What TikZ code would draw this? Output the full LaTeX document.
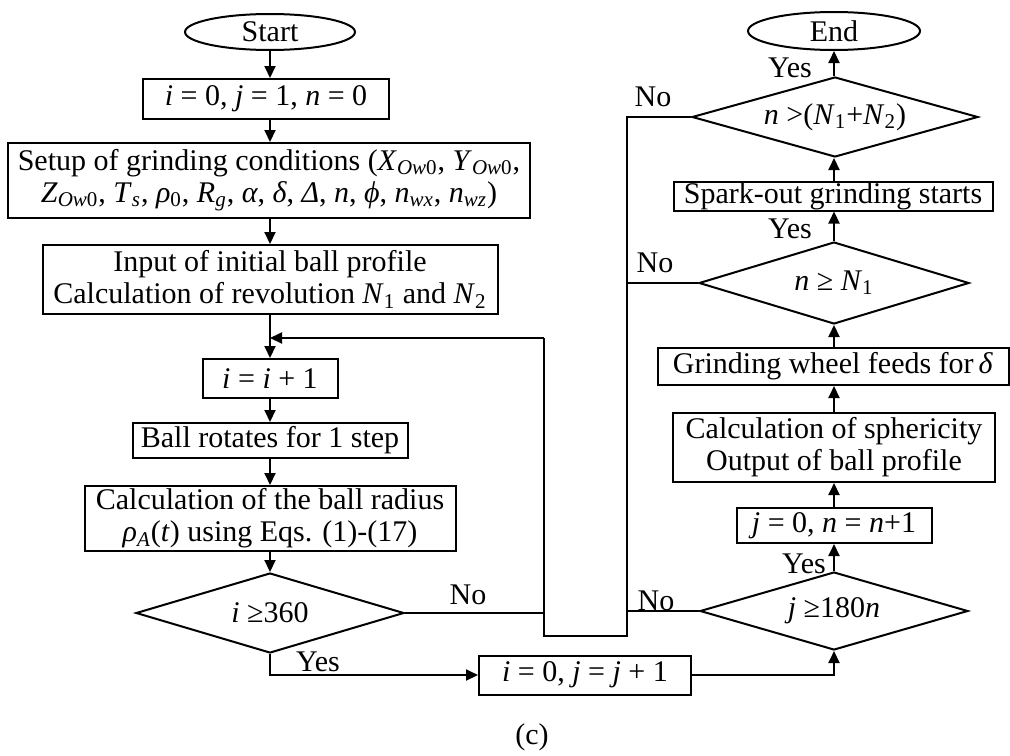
\documentclass[tikz,border=0pt]{standalone}
\usepackage{fontspec}
\setmainfont{Liberation Serif}
\usetikzlibrary{shapes.geometric,arrows.meta}
\newcommand\lowr[1]{\textsubscript{#1}}

\begin{document}
\begin{tikzpicture}[x=0.5pt,y=-0.5pt,line join=miter,
  font=\fontsize{15}{16}\selectfont,
  box/.style={draw,line width=1pt,inner sep=0pt,align=center},
  decision/.style={diamond,draw,line width=1pt,inner sep=0pt,aspect=3.3},
  terminal/.style={ellipse,draw,line width=1pt,inner sep=0pt},
  tag/.style={inner sep=0pt},
  wire/.style={line width=1pt},
  flow/.style={line width=1pt,-{Triangle[length=6pt,width=5.5pt]}}]
  \useasboundingbox (0,0) rectangle (1010,755);

  % left column
  \node[terminal,minimum width=85pt,minimum height=18pt] (start) at (270,32) {Start};
  \node[box,minimum width=123pt,minimum height=20pt] (init) at (266,99) {\textit{i} = 0, \textit{j} = 1, \textit{n} = 0};
  \node[box,minimum width=261pt,minimum height=37.5pt] (setup) at (269,180.5) {Setup of grinding conditions (\textit{X}\lowr{\textit{Ow}0}, \textit{Y}\lowr{\textit{Ow}0},\\
    \textit{Z}\lowr{\textit{Ow}0}, \textit{T}\lowr{\textit{s}}, \textit{ρ}\lowr{0}, \textit{R}\lowr{\textit{g}}, \textit{α}, \textit{δ}, \textit{Δ}, \textit{n}, \textit{ϕ}, \textit{n}\lowr{\textit{wx}}, \textit{n}\lowr{\textit{wz}})};
  \node[box,minimum width=227.5pt,minimum height=34.5pt] (input) at (270,279.5) {Input of initial ball profile\\
    Calculation of revolution \textit{N}\lowr{1} and \textit{N}\lowr{2}};
  \node[box,minimum width=67.5pt,minimum height=19.5pt] (inc) at (270,378.5) {\textit{i} = \textit{i} + 1};
  \node[box,minimum width=137.5pt,minimum height=17.5pt] (ball) at (270,440.5) {Ball rotates for 1 step};
  \node[box,minimum width=185.5pt,minimum height=32.5pt] (radius) at (270,518.5) {Calculation of the ball radius\\
    \textit{ρ}\lowr{\textit{A}}(\textit{t}) using Eqs. (1)-(17)};
  \node[decision,minimum width=134pt,minimum height=40pt] (checki) at (270,613) {\textit{i} ≥360};
  \node[box,minimum width=106pt,minimum height=19.5pt] (reset) at (585,675) {\textit{i} = 0, \textit{j} = \textit{j} + 1};

  % right column
  \node[decision,minimum width=134pt,minimum height=39pt] (checkj) at (834,611) {\textit{j} ≥180\textit{n}};
  \node[box,minimum width=97.5pt,minimum height=17.5pt] (jn) at (834,525.5) {\textit{j} = 0, \textit{n} = \textit{n}+1};
  \node[box,minimum width=161pt,minimum height=34.5pt] (sph) at (834,447.5) {Calculation of sphericity\\
    Output of ball profile};
  \node[box,minimum width=175.5pt,minimum height=18.5pt] (feed) at (833,366.5) {Grinding wheel feeds for\,\textit{δ}};
  \node[decision,minimum width=135pt,minimum height=41pt] (checkNa) at (834,283) {\textit{n} ≥ \textit{N}\lowr{1}};
  \node[box,minimum width=159.5pt,minimum height=14.5pt] (spark) at (833,196) {Spark-out grinding starts};
  \node[decision,minimum width=143pt,minimum height=40pt] (checkNb) at (835,117) {\textit{n} >(\textit{N}\lowr{1}+\textit{N}\lowr{2})};
  \node[terminal,minimum width=86pt,minimum height=19pt] (end) at (834,31) {End};

  % return path
  \coordinate (loopin) at (270,338);
  \coordinate (retTop) at (544,338);
  \coordinate (retBot) at (544,636);
  \coordinate (busBot) at (627,636);
  \coordinate (busTop) at (627,117);

  \draw[flow] (start) -- (start |- init.north);
  \draw[flow] (init.south -| start) -- (start |- setup.north);
  \draw[flow] (setup.south -| start) -- (start |- input.north);
  \draw[flow] (input) -- (inc);
  \draw[flow] (inc) -- (ball);
  \draw[flow] (ball) -- (radius);
  \draw[flow] (radius) -- (checki);
  \draw[flow] (checki.south) |- (reset.west);
  \draw[flow] (reset.east) -| (checkj.south);
  \draw[wire] (checki.east) -- (checki.east -| retTop);
  \draw[wire] (checkNb.west) -- (busTop) -- (busBot) -- (retBot) -- (retTop);
  \draw[flow] (retTop) -- (loopin);
  \draw[wire] (checkNa.west) -- (checkNa.west -| busTop);
  \draw[wire] (checkj.west) -- (checkj.west -| busTop);

  \draw[flow] (checkj) -- (jn);
  \draw[flow] (jn) -- (sph);
  \draw[flow] (sph.north -| end) -- (end |- feed.south);
  \draw[flow] (feed.north -| end) -- (checkNa.south);
  \draw[flow] (checkNa) -- (end |- spark.south);
  \draw[flow] (spark.north -| end) -- (end |- checkNb.south);
  \draw[flow] (checkNb.north -| end) -- (end);

  % branch labels
  \node[tag] (yesNb) at (790,68) {Yes};
  \node[tag] (noNb) at (653,97) {No};
  \node[tag] (yesNa) at (790,229) {Yes};
  \node[tag] (noNa) at (655,263) {No};
  \node[tag] (yesj) at (804,564) {Yes};
  \node[tag] (noj) at (656,601) {No};
  \node[tag] (noi) at (468,595) {No};
  \node[tag] (yesi) at (318,662) {Yes};
  \node[tag] (caption) at (532,737) {(c)};
\end{tikzpicture}
\end{document}
